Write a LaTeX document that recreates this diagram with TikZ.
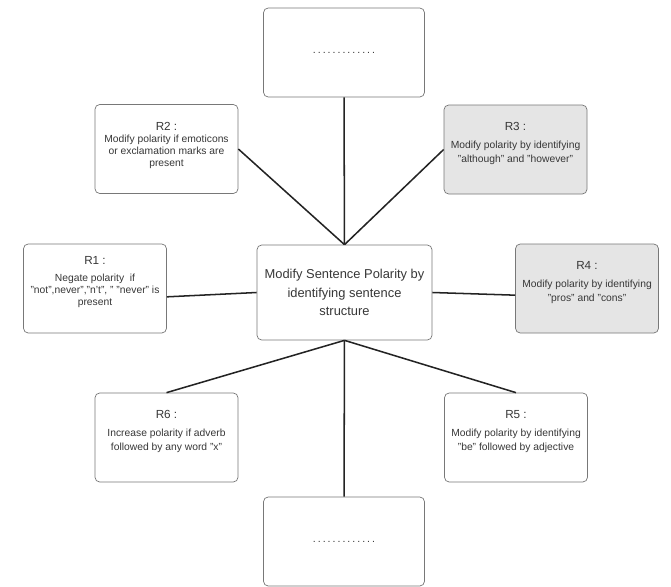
\documentclass[tikz,border=0pt]{standalone}
\usepackage{fontspec}
\setmainfont{Liberation Sans}
\newfontfamily\dotsFont[LetterSpace=19]{Liberation Sans}
\usetikzlibrary{positioning}
\definecolor{BoxLine}{RGB}{120,120,120}
\definecolor{RuleFill}{RGB}{229,229,229}
\definecolor{LinkBlack}{RGB}{35,35,35}
\definecolor{TextGray}{RGB}{55,55,55}
\newcommand{\ruleText}[1]{\raisebox{-2.5pt}[\height][\depth]{\begin{tabular}{@{}c@{}}#1\end{tabular}}}

\begin{document}
\begin{tikzpicture}[x=0.03cm,y=-0.03cm,
    rulebox/.style={draw=BoxLine,rounded corners=4pt,line width=0.6pt,fill=white,text=TextGray,align=center,minimum width=4.29cm,minimum height=2.67cm,inner sep=1pt,font=\fontsize{8.8}{12}\selectfont},
    greybox/.style={rulebox,fill=RuleFill},
    threeline/.style={font=\fontsize{8.8}{10.3}\selectfont},
    rulename/.style={anchor=center,yshift=-0.66cm,text=TextGray,font=\fontsize{10}{12}\selectfont},
    link/.style={draw=LinkBlack,line width=1.3pt}]
    \useasboundingbox[fill=white] (0,0) rectangle (671,586);
    \node[rulebox,minimum width=5.25cm,minimum height=2.85cm,font=\fontsize{11}{15.5}\selectfont] (c) at (344.5,292.5) {Modify Sentence Polarity by\\identifying sentence\\structure};
    \node[rulebox,minimum width=4.83cm] (top) at (344,52.5) {\dotsFont\fontsize{9}{12}\selectfont .............};
    \node[rulebox,minimum width=4.83cm] (bottom) at (344,541.5) {\dotsFont\fontsize{9}{12}\selectfont .............};
    \node[rulebox,threeline,label={[rulename,yshift=0.15cm]north:R1 :}] (r1) at (95,288.5) {\ruleText{Negate polarity\ \ if\\"not",never","n't", " "never" is\\present}};
    \node[rulebox,threeline,label={[rulename]north:R2 :}] (r2) at (166.5,149) {\ruleText{Modify polarity if emoticons\\or exclamation marks are\\present}};
    \node[greybox,label={[rulename]north:R3 :}] (r3) at (515.5,149.5) {\ruleText{Modify polarity by identifying\\"although" and "however"}};
    \node[greybox,label={[rulename]north:R4 :}] (r4) at (587,288.5) {\ruleText{Modify polarity by identifying\\"pros" and "cons"}};
    \node[rulebox,label={[rulename]north:R5 :}] (r5) at (516,437.5) {\ruleText{Modify polarity by identifying\\"be" followed by adjective}};
    \node[rulebox,label={[rulename]north:R6 :}] (r6) at (166.5,437.5) {\ruleText{Increase polarity if adverb\\followed by any word "x"}};
    \draw[link] (top) -- (c);
    \draw[link] (r2.east) -- (c.north);
    \draw[link] (r3.west) -- (c.north);
    \draw[link] ([yshift=-0.25cm]r1.east) -- (c.west);
    \draw[link] ([yshift=-0.2cm]r4.west) -- (c.east);
    \draw[link] (c.south) -- (r6.north);
    \draw[link] (c.south) -- (r5.north);
    \draw[link] (c) -- (bottom);
\end{tikzpicture}
\end{document}
